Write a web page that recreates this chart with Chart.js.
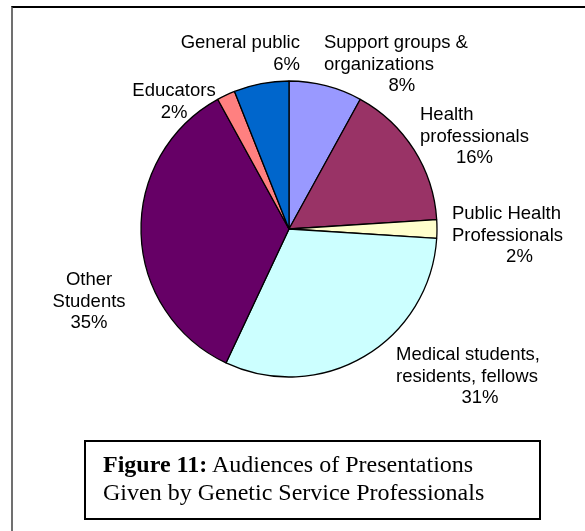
<!DOCTYPE html>
<html>
<head>
<meta charset="utf-8">
<script src="https://cdn.jsdelivr.net/npm/chart.js"></script>
<style>
  html, body { margin: 0; padding: 0; background: #fff; }
  #wrap { position: relative; width: 585px; height: 531px; overflow: hidden; }
  #frame {
    position: absolute; left: 11px; top: 6px; width: 600px; height: 560px;
    border-top: 2px solid #000; border-left: 2px solid #707070;
  }
  #audiencePie { position: absolute; left: 0; top: 0; }
  #caption {
    position: absolute; left: 84px; top: 440px; width: 436px; height: 62px;
    border: 2px solid #000; padding: 8px 0 6px 17px;
    font: 24px "Liberation Serif", "Times New Roman", serif; line-height: 28px; color: #000;
  }
</style>
</head>
<body>
<div id="wrap">
  <div id="frame"></div>
  <canvas id="audiencePie" width="585" height="531"></canvas>
  <div id="caption"><b>Figure 11:</b> Audiences of Presentations<br>Given by Genetic Service Professionals</div>
</div>
<script>
// audience groups, clockwise from 12 o'clock
const categories = [
  'Support groups &\norganizations',
  'Health\nprofessionals',
  'Public Health\nProfessionals',
  'Medical students,\nresidents, fellows',
  'Other\nStudents',
  'Educators',
  'General public'
];
const shares = [8, 16, 2, 31, 35, 2, 6];
const sliceColors = ['#9999FF', '#993366', '#FFFFCC', '#CCFFFF', '#660066', '#FF8080', '#0066CC'];

// label anchor relative to pie centre, in radius units: [x, y, align, percent nudge]
const labelPlace = [
  [0.236, -1.257, 'left', 6],
  [0.885, -0.770, 'left', 0],
  [1.101, -0.101, 'left', 12],
  [0.723, 0.851, 'left', 12],
  [-1.351, 0.345, 'center', 0],
  [-0.777, -0.932, 'center', 0],
  [0.074, -1.257, 'right', 0]
];
const lineH = 21.5;

const sliceLabels = {
  id: 'sliceLabels',
  afterDatasetsDraw(chart) {
    const ctx = chart.ctx;
    const arcs = chart.getDatasetMeta(0).data;
    ctx.save();
    ctx.font = '18.5px "Liberation Sans", Arial, sans-serif';
    ctx.fillStyle = '#000';
    ctx.textBaseline = 'middle';
    arcs.forEach((arc, i) => {
      const p = arc.getProps(['x', 'y', 'outerRadius'], true);
      const [fx, fy, align, nudge] = labelPlace[i];
      const lines = categories[i].split('\n').concat(shares[i] + '%');
      const ax = p.x + fx * p.outerRadius;
      const ay = p.y + fy * p.outerRadius;
      const widest = Math.max(...lines.slice(0, -1).map(l => ctx.measureText(l).width));
      lines.forEach((line, k) => {
        const ly = ay + k * lineH;
        if (align === 'left' && k === lines.length - 1) {
          ctx.textAlign = 'center';
          ctx.fillText(line, ax + widest / 2 + nudge, ly);
        } else {
          ctx.textAlign = align;
          ctx.fillText(line, ax, ly);
        }
      });
    });
    ctx.restore();
  }
};

const ctx = document.getElementById('audiencePie').getContext('2d');
new Chart(ctx, {
  type: 'pie',
  data: {
    labels: categories,
    datasets: [{
      data: shares,
      backgroundColor: sliceColors,
      borderColor: '#000',
      borderWidth: 1.3
    }]
  },
  options: {
    responsive: false,
    animation: false,
    radius: 148,
    layout: { padding: { left: 100, right: 107, top: 40, bottom: 113 } },
    plugins: {
      legend: { display: false },
      tooltip: { enabled: false }
    }
  },
  plugins: [sliceLabels]
});
</script>
</body>
</html>
